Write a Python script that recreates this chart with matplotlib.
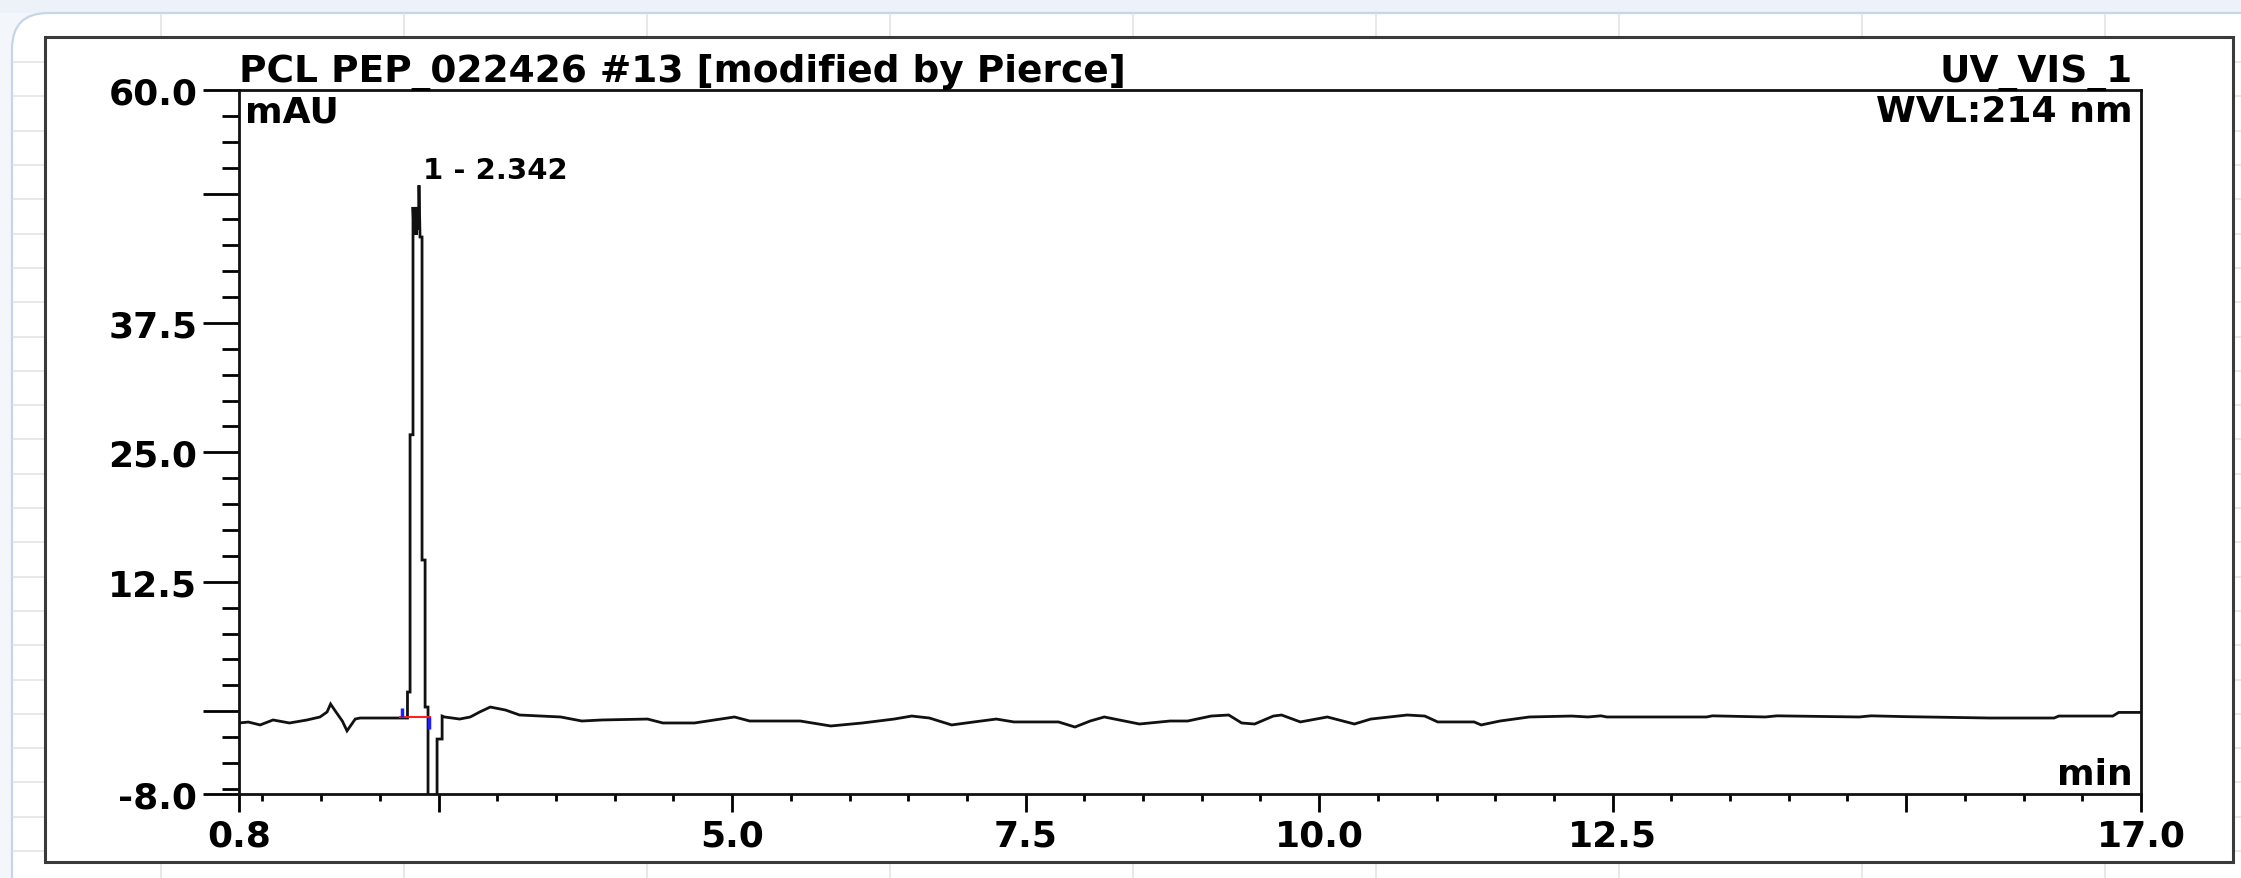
#!/usr/bin/env python3
"""Chromeleon-style UV trace for PCL PEP_022426 #13, redrawn from a screenshot."""

import matplotlib

matplotlib.use("Agg")

import matplotlib.pyplot as plt
from matplotlib.lines import Line2D
from matplotlib.patches import FancyBboxPatch, Rectangle
from matplotlib.transforms import IdentityTransform

# trace: retention time (min) / absorbance (mAU)
pre_peak_min = [0.80, 0.88, 0.98, 1.09, 1.23, 1.38, 1.49, 1.55, 1.58, 1.62,
                1.68, 1.72, 1.79, 1.83, 2.17, 2.235]
pre_peak_mau = [-1.14, -1.05, -1.33, -0.85, -1.14, -0.85, -0.56, -0.08, 0.69, 0.02,
                -0.95, -1.90, -0.76, -0.66, -0.66, -0.66]

peak_min = [2.235, 2.257, 2.257, 2.282, 2.282, 2.290, 2.300, 2.310, 2.320, 2.328,
            2.333, 2.342, 2.359, 2.359, 2.385, 2.385, 2.410, 2.410, 2.487, 2.487,
            2.530, 2.530]
peak_mau = [1.85, 1.85, 26.7, 26.7, 48.7, 46.0, 48.7, 46.0, 48.7, 46.5,
            50.8, 45.8, 45.8, 14.6, 14.6, 0.4, 0.4, -12.0, -12.0, -2.69,
            -2.69, -0.47]

post_peak_min = [2.55, 2.68, 2.77, 2.85, 2.94, 3.07, 3.19, 3.54, 3.72, 3.89,
                 4.28, 4.41, 4.68, 4.85, 5.02, 5.15, 5.58, 5.84, 6.11, 6.38,
                 6.53, 6.68, 6.87, 7.06, 7.25, 7.40, 7.78, 7.92, 8.05, 8.17,
                 8.47, 8.73, 8.88, 9.08, 9.23, 9.34, 9.45, 9.61, 9.68, 9.84,
                 10.07, 10.30, 10.44, 10.75, 10.90, 11.01, 11.32, 11.38, 11.54, 11.79,
                 12.15, 12.29, 12.40, 12.45, 13.30, 13.35, 13.80, 13.90, 14.60, 14.70,
                 15.00, 15.71, 16.26, 16.30, 16.76, 16.81, 17.00]
post_peak_mau = [-0.56, -0.76, -0.56, -0.08, 0.40, 0.11, -0.37, -0.56, -0.95, -0.85,
                 -0.76, -1.14, -1.14, -0.85, -0.56, -0.95, -0.95, -1.43, -1.14, -0.76,
                 -0.47, -0.66, -1.33, -1.04, -0.76, -1.04, -1.04, -1.53, -0.95, -0.56,
                 -1.24, -0.95, -0.95, -0.47, -0.37, -1.14, -1.24, -0.47, -0.37, -1.04,
                 -0.56, -1.24, -0.76, -0.37, -0.47, -1.04, -1.04, -1.33, -0.95, -0.56,
                 -0.47, -0.56, -0.45, -0.56, -0.56, -0.45, -0.56, -0.45, -0.56, -0.45,
                 -0.53, -0.66, -0.66, -0.47, -0.47, -0.12, -0.12]

# integration of peak 1
peak_label = "1 - 2.342"
peak_rt = 2.342
peak_top = 50.8
baseline_min = [2.17, 2.43]
baseline_mau = [-0.56, -0.56]
delimiter_min = [2.19, 2.42]
delimiter_lo = [-0.56, -1.70]
delimiter_hi = [0.30, -0.56]

x_major = [0.8, 2.5, 5.0, 7.5, 10.0, 12.5, 15.0, 17.0]
x_labels = ["0.8", "", "5.0", "7.5", "10.0", "12.5", "", "17.0"]
x_minor = [1.0 + 0.5 * i for i in range(32)]
y_major = [-8.0, 0.0, 12.5, 25.0, 37.5, 50.0, 60.0]
y_labels = ["-8.0", "", "12.5", "25.0", "37.5", "", "60.0"]
y_minor = [-7.5 + 2.5 * i for i in range(27)]

W, H = 2241, 879

plt.rcParams["font.family"] = ["DejaVu Sans"]
plt.rcParams["font.weight"] = "bold"

fig = plt.figure(figsize=(W / 100, H / 100), dpi=100)
fig.patch.set_facecolor("#f3f6fb")
px = IdentityTransform()

# spreadsheet-ish backdrop behind the pasted screenshot
fig.add_artist(Rectangle((0, H - 14), W, 14, transform=px, facecolor="#edf2f9",
                         edgecolor="none", zorder=-6))
fig.add_artist(FancyBboxPatch((12, -40), 2400, H - 14 + 40, transform=px,
                              boxstyle="round,pad=0,rounding_size=36",
                              facecolor="white", edgecolor="#c6d5ea", lw=1.6, zorder=-5))
for k in range(9):
    x = 161 + 243 * k
    fig.add_artist(Line2D([x, x], [0, H - 15], transform=px, color="#e1e1e1", lw=1.1, zorder=-4))
for k in range(24):
    y = H - (852 - 34.3 * k)
    fig.add_artist(Line2D([13, W], [y, y], transform=px, color="#e1e1e1", lw=1.1, zorder=-4))
fig.add_artist(Rectangle((45, H - 863), 2233 - 45, 863 - 38, transform=px, facecolor="white",
                         edgecolor="#3a3a3a", lw=2.2, zorder=-3))

ax = fig.add_axes([239 / W, 1 - 795 / H, (2141 - 239) / W, (795 - 91) / H])
ax.set_facecolor("white")

trace_min = pre_peak_min + peak_min + post_peak_min
trace_mau = pre_peak_mau + peak_mau + post_peak_mau
ax.plot(trace_min, trace_mau, color="#111111", lw=2.0, solid_joinstyle="miter")
ax.plot(baseline_min, baseline_mau, color="#ff2020", lw=1.5)
ax.vlines(delimiter_min, delimiter_lo, delimiter_hi, color="#2020ff", lw=2.5)

ax.set_xlim(x_major[0], x_major[-1])
ax.set_ylim(y_major[0], y_major[-1])
ax.set_xticks(x_major)
ax.set_xticklabels(x_labels)
ax.set_xticks(x_minor, minor=True)
ax.set_yticks(y_major)
ax.set_yticklabels(y_labels)
ax.set_yticks(y_minor, minor=True)

ax.tick_params(axis="x", which="major", direction="out", length=13, width=2, pad=5, labelsize=26)
ax.tick_params(axis="x", which="minor", direction="out", length=5, width=2)
ax.tick_params(axis="y", which="major", direction="out", length=26, width=2, pad=4, labelsize=26)
ax.tick_params(axis="y", which="minor", direction="out", length=12, width=2)
for spine in ax.spines.values():
    spine.set_linewidth(2.0)
    spine.set_color("#111111")

ax.annotate("PCL PEP_022426 #13 [modified by Pierce]", xy=(0, 1), xycoords="axes fraction",
            xytext=(0, 6.5), textcoords="offset points", ha="left", va="baseline", fontsize=27)
ax.annotate("UV_VIS_1", xy=(1, 1), xycoords="axes fraction", xytext=(-6, 6.5),
            textcoords="offset points", ha="right", va="baseline", fontsize=27)
ax.annotate("mAU", xy=(0, 1), xycoords="axes fraction", xytext=(4, -3),
            textcoords="offset points", ha="left", va="top", fontsize=26)
ax.annotate("WVL:214 nm", xy=(1, 1), xycoords="axes fraction", xytext=(-6, -3),
            textcoords="offset points", ha="right", va="top", fontsize=26)
ax.annotate("min", xy=(1, 0), xycoords="axes fraction", xytext=(-6, 7),
            textcoords="offset points", ha="right", va="baseline", fontsize=26)
ax.annotate(peak_label, xy=(peak_rt, peak_top), xytext=(2, 5), textcoords="offset points",
            ha="left", va="baseline", fontsize=21)

fig.savefig("out.png", dpi=100, facecolor=fig.get_facecolor())
